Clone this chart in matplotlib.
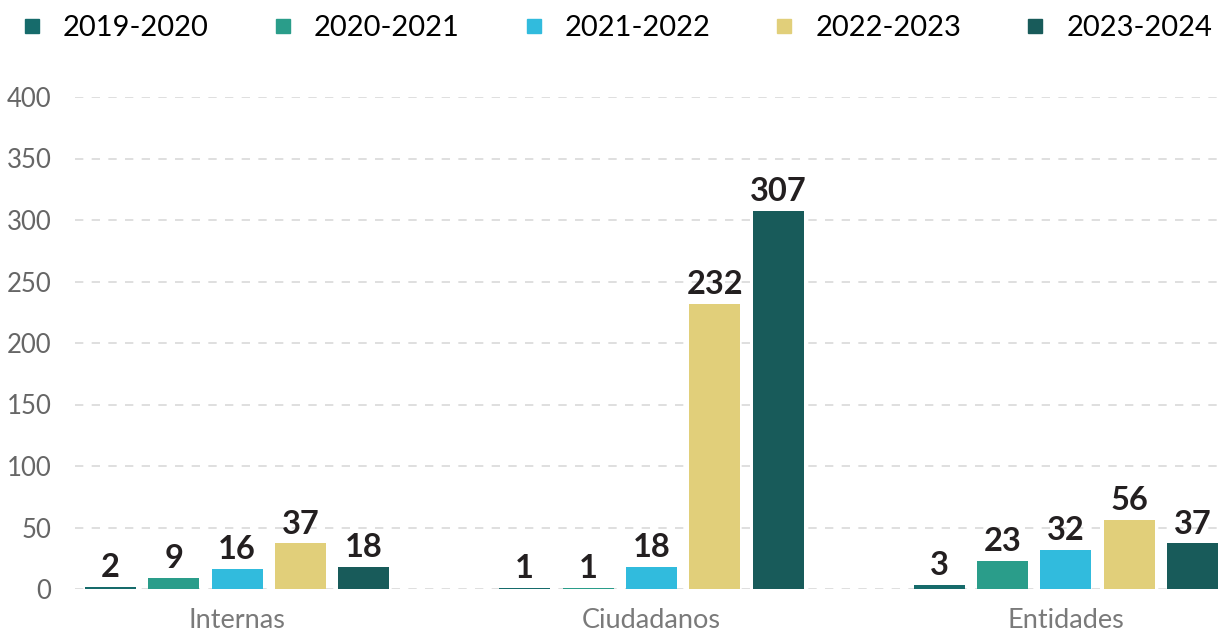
import matplotlib
matplotlib.use("Agg")
import matplotlib.pyplot as plt
from matplotlib.lines import Line2D
import numpy as np

categories = ["Internas", "Ciudadanos", "Entidades"]
series_names = ["2019-2020", "2020-2021", "2021-2022", "2022-2023", "2023-2024"]
v2019 = [2, 1, 3]
v2020 = [9, 1, 23]
v2021 = [16, 18, 32]
v2022 = [37, 232, 56]
v2023 = [18, 307, 37]
series_values = [v2019, v2020, v2021, v2022, v2023]
colors = ["#166b6b", "#2a9d8a", "#31bbdd", "#e1cf7a", "#185b5a"]
yticks = [0, 50, 100, 150, 200, 250, 300, 350, 400]

plt.rcParams['font.family'] = ['Lato', 'DejaVu Sans']

fig = plt.figure(figsize=(12.23, 6.31), dpi=100)
ax = fig.add_axes([75/1223, 42/631, (1220-75)/1223, (589-97)/631])

x = np.arange(len(categories))
step = 0.153
width = 0.123
for i, (vals, c) in enumerate(zip(series_values, colors)):
    pos = x + (i - 2) * step
    bars = ax.bar(pos, vals, width=width, color=c, zorder=3)
    for b, v in zip(bars, vals):
        ax.text(b.get_x() + b.get_width()/2, v + 4, str(v), ha='center', va='bottom',
                fontsize=23.5, fontweight='bold', color='#231f20', zorder=4)

ax.set_xlim(-0.391, 2.372)
ax.set_ylim(0, 400)
ax.set_yticks(yticks)
ax.set_yticklabels([str(t) for t in yticks], fontsize=18.5, color='#666666')
ax.set_xticks(x)
ax.set_xticklabels(categories, fontsize=19.5, color='#7a7a7a')
ax.tick_params(axis='both', length=0)
ax.tick_params(axis='y', pad=17)
ax.tick_params(axis='x', pad=14)
ax.yaxis.grid(True, linestyle=(0, (5, 5)), color='#d9d9d9', linewidth=1.2, zorder=0)
ax.set_axisbelow(True)
for s in ax.spines.values():
    s.set_visible(False)

handles = [Line2D([0], [0], marker='s', linestyle='', markersize=10.5,
                  markerfacecolor=c, markeredgecolor=c) for c in colors]
fig.legend(handles, series_names, loc='upper center', bbox_to_anchor=(0.5045, 1.018),
           ncol=5, frameon=False, fontsize=21, handletextpad=0.72, columnspacing=2.18,
           handlelength=0.7)

fig.savefig("out.png", dpi=100, facecolor='white')
